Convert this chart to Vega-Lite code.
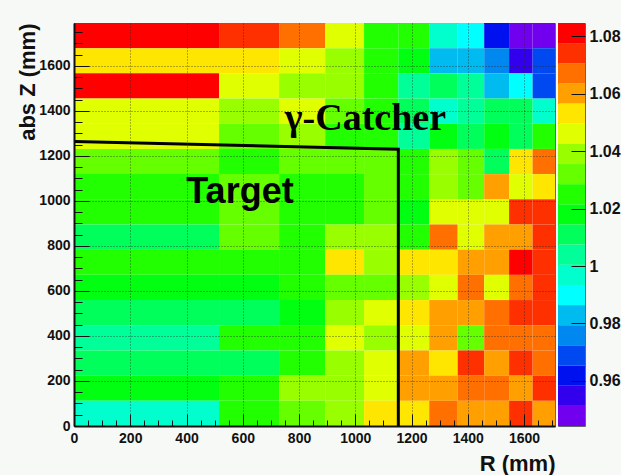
{
  "$schema": "https://vega.github.io/schema/vega-lite/v6.json",
  "background": "#f7f9f7",
  "padding": {"left": 15, "top": 22, "right": 0, "bottom": 0},
  "spacing": 1,
  "config": {
    "view": {"stroke": "#666666", "strokeWidth": 1},
    "axis": {"labelFont": "Liberation Sans", "titleFont": "Liberation Sans", "labelFontWeight": "bold", "titleFontWeight": "bold", "labelColor": "#111111", "titleColor": "#111111", "tickColor": "#111111", "domainColor": "#111111"}
  },
  "hconcat": [
    {
      "width": 481,
      "height": 403,
      "resolve": {"axis": {"x": "independent", "y": "independent"}},
      "layer": [
        {
          "data": {"values": [
            {"r0":0,"r1":515.6,"z0":1678.1,"z1":1790,"v":1.0815},{"r0":515.6,"r1":729.1,"z0":1678.1,"z1":1790,"v":1.0742},{"r0":729.1,"r1":893.0,"z0":1678.1,"z1":1790,"v":1.0668},{"r0":893.0,"r1":1031.2,"z0":1678.1,"z1":1790,"v":1.0462},{"r0":1031.2,"r1":1152.9,"z0":1678.1,"z1":1790,"v":1.0247},{"r0":1152.9,"r1":1262.9,"z0":1678.1,"z1":1790,"v":1.0255},{"r0":1262.9,"r1":1364.1,"z0":1678.1,"z1":1790,"v":0.9972},{"r0":1364.1,"r1":1458.3,"z0":1678.1,"z1":1790,"v":0.9901},{"r0":1458.3,"r1":1546.8,"z0":1678.1,"z1":1790,"v":0.9618},{"r0":1546.8,"r1":1630.4,"z0":1678.1,"z1":1790,"v":0.9462},{"r0":1630.4,"r1":1710,"z0":1678.1,"z1":1790,"v":0.9480},
            {"r0":0,"r1":515.6,"z0":1566.3,"z1":1678.1,"v":1.0532},{"r0":515.6,"r1":729.1,"z0":1566.3,"z1":1678.1,"v":1.0528},{"r0":729.1,"r1":893.0,"z0":1566.3,"z1":1678.1,"v":1.0458},{"r0":893.0,"r1":1031.2,"z0":1566.3,"z1":1678.1,"v":1.0391},{"r0":1031.2,"r1":1152.9,"z0":1566.3,"z1":1678.1,"v":1.0252},{"r0":1152.9,"r1":1262.9,"z0":1566.3,"z1":1678.1,"v":1.0178},{"r0":1262.9,"r1":1364.1,"z0":1566.3,"z1":1678.1,"v":0.9831},{"r0":1364.1,"r1":1458.3,"z0":1566.3,"z1":1678.1,"v":0.9826},{"r0":1458.3,"r1":1546.8,"z0":1566.3,"z1":1678.1,"v":0.9757},{"r0":1546.8,"r1":1630.4,"z0":1566.3,"z1":1678.1,"v":0.9551},{"r0":1630.4,"r1":1710,"z0":1566.3,"z1":1678.1,"v":0.9688},
            {"r0":0,"r1":515.6,"z0":1454.4,"z1":1566.3,"v":1.0808},{"r0":515.6,"r1":729.1,"z0":1454.4,"z1":1566.3,"v":1.0463},{"r0":729.1,"r1":893.0,"z0":1454.4,"z1":1566.3,"v":1.0387},{"r0":893.0,"r1":1031.2,"z0":1454.4,"z1":1566.3,"v":1.0394},{"r0":1031.2,"r1":1152.9,"z0":1454.4,"z1":1566.3,"v":1.0249},{"r0":1152.9,"r1":1262.9,"z0":1454.4,"z1":1566.3,"v":1.0041},{"r0":1262.9,"r1":1364.1,"z0":1454.4,"z1":1566.3,"v":1.0108},{"r0":1364.1,"r1":1458.3,"z0":1454.4,"z1":1566.3,"v":1.0036},{"r0":1458.3,"r1":1546.8,"z0":1454.4,"z1":1566.3,"v":0.9834},{"r0":1546.8,"r1":1630.4,"z0":1454.4,"z1":1566.3,"v":0.9902},{"r0":1630.4,"r1":1710,"z0":1454.4,"z1":1566.3,"v":0.9691},
            {"r0":0,"r1":515.6,"z0":1342.5,"z1":1454.4,"v":1.0459},{"r0":515.6,"r1":729.1,"z0":1342.5,"z1":1454.4,"v":1.0392},{"r0":729.1,"r1":893.0,"z0":1342.5,"z1":1454.4,"v":1.0461},{"r0":893.0,"r1":1031.2,"z0":1342.5,"z1":1454.4,"v":1.0318},{"r0":1031.2,"r1":1152.9,"z0":1342.5,"z1":1454.4,"v":1.0251},{"r0":1152.9,"r1":1262.9,"z0":1342.5,"z1":1454.4,"v":1.0112},{"r0":1262.9,"r1":1364.1,"z0":1342.5,"z1":1454.4,"v":0.9968},{"r0":1364.1,"r1":1458.3,"z0":1342.5,"z1":1454.4,"v":1.0043},{"r0":1458.3,"r1":1546.8,"z0":1342.5,"z1":1454.4,"v":1.0107},{"r0":1546.8,"r1":1630.4,"z0":1342.5,"z1":1454.4,"v":1.0111},{"r0":1630.4,"r1":1710,"z0":1342.5,"z1":1454.4,"v":0.9971},
            {"r0":0,"r1":515.6,"z0":1230.6,"z1":1342.5,"v":1.0457},{"r0":515.6,"r1":729.1,"z0":1230.6,"z1":1342.5,"v":1.0322},{"r0":729.1,"r1":893.0,"z0":1230.6,"z1":1342.5,"v":1.0389},{"r0":893.0,"r1":1031.2,"z0":1230.6,"z1":1342.5,"v":1.0248},{"r0":1031.2,"r1":1152.9,"z0":1230.6,"z1":1342.5,"v":1.0253},{"r0":1152.9,"r1":1262.9,"z0":1230.6,"z1":1342.5,"v":1.0038},{"r0":1262.9,"r1":1364.1,"z0":1230.6,"z1":1342.5,"v":1.0181},{"r0":1364.1,"r1":1458.3,"z0":1230.6,"z1":1342.5,"v":1.0109},{"r0":1458.3,"r1":1546.8,"z0":1230.6,"z1":1342.5,"v":1.0177},{"r0":1546.8,"r1":1630.4,"z0":1230.6,"z1":1342.5,"v":1.0113},{"r0":1630.4,"r1":1710,"z0":1230.6,"z1":1342.5,"v":1.0246},
            {"r0":0,"r1":515.6,"z0":1118.8,"z1":1230.6,"v":1.0321},{"r0":515.6,"r1":729.1,"z0":1118.8,"z1":1230.6,"v":1.0252},{"r0":729.1,"r1":893.0,"z0":1118.8,"z1":1230.6,"v":1.0319},{"r0":893.0,"r1":1031.2,"z0":1118.8,"z1":1230.6,"v":1.0323},{"r0":1031.2,"r1":1152.9,"z0":1118.8,"z1":1230.6,"v":1.0317},{"r0":1152.9,"r1":1262.9,"z0":1118.8,"z1":1230.6,"v":1.0248},{"r0":1262.9,"r1":1364.1,"z0":1118.8,"z1":1230.6,"v":1.0393},{"r0":1364.1,"r1":1458.3,"z0":1118.8,"z1":1230.6,"v":1.0322},{"r0":1458.3,"r1":1546.8,"z0":1118.8,"z1":1230.6,"v":1.0108},{"r0":1546.8,"r1":1630.4,"z0":1118.8,"z1":1230.6,"v":1.0529},{"r0":1630.4,"r1":1710,"z0":1118.8,"z1":1230.6,"v":1.0672},
            {"r0":0,"r1":515.6,"z0":1006.9,"z1":1118.8,"v":1.0251},{"r0":515.6,"r1":729.1,"z0":1006.9,"z1":1118.8,"v":1.0318},{"r0":729.1,"r1":893.0,"z0":1006.9,"z1":1118.8,"v":1.0249},{"r0":893.0,"r1":1031.2,"z0":1006.9,"z1":1118.8,"v":1.0254},{"r0":1031.2,"r1":1152.9,"z0":1006.9,"z1":1118.8,"v":1.0321},{"r0":1152.9,"r1":1262.9,"z0":1006.9,"z1":1118.8,"v":1.0247},{"r0":1262.9,"r1":1364.1,"z0":1006.9,"z1":1118.8,"v":1.0388},{"r0":1364.1,"r1":1458.3,"z0":1006.9,"z1":1118.8,"v":1.0324},{"r0":1458.3,"r1":1546.8,"z0":1006.9,"z1":1118.8,"v":1.0602},{"r0":1546.8,"r1":1630.4,"z0":1006.9,"z1":1118.8,"v":1.0462},{"r0":1630.4,"r1":1710,"z0":1006.9,"z1":1118.8,"v":1.0533},
            {"r0":0,"r1":515.6,"z0":895.0,"z1":1006.9,"v":1.0249},{"r0":515.6,"r1":729.1,"z0":895.0,"z1":1006.9,"v":1.0319},{"r0":729.1,"r1":893.0,"z0":895.0,"z1":1006.9,"v":1.0252},{"r0":893.0,"r1":1031.2,"z0":895.0,"z1":1006.9,"v":1.0248},{"r0":1031.2,"r1":1152.9,"z0":895.0,"z1":1006.9,"v":1.0323},{"r0":1152.9,"r1":1262.9,"z0":895.0,"z1":1006.9,"v":1.0182},{"r0":1262.9,"r1":1364.1,"z0":895.0,"z1":1006.9,"v":1.0459},{"r0":1364.1,"r1":1458.3,"z0":895.0,"z1":1006.9,"v":1.0463},{"r0":1458.3,"r1":1546.8,"z0":895.0,"z1":1006.9,"v":1.0456},{"r0":1546.8,"r1":1630.4,"z0":895.0,"z1":1006.9,"v":1.0743},{"r0":1630.4,"r1":1710,"z0":895.0,"z1":1006.9,"v":1.0738},
            {"r0":0,"r1":515.6,"z0":783.1,"z1":895.0,"v":1.0112},{"r0":515.6,"r1":729.1,"z0":783.1,"z1":895.0,"v":1.0321},{"r0":729.1,"r1":893.0,"z0":783.1,"z1":895.0,"v":1.0251},{"r0":893.0,"r1":1031.2,"z0":783.1,"z1":895.0,"v":1.0389},{"r0":1031.2,"r1":1152.9,"z0":783.1,"z1":895.0,"v":1.0392},{"r0":1152.9,"r1":1262.9,"z0":783.1,"z1":895.0,"v":1.0253},{"r0":1262.9,"r1":1364.1,"z0":783.1,"z1":895.0,"v":1.0669},{"r0":1364.1,"r1":1458.3,"z0":783.1,"z1":895.0,"v":1.0461},{"r0":1458.3,"r1":1546.8,"z0":783.1,"z1":895.0,"v":1.0598},{"r0":1546.8,"r1":1630.4,"z0":783.1,"z1":895.0,"v":1.0603},{"r0":1630.4,"r1":1710,"z0":783.1,"z1":895.0,"v":1.0741},
            {"r0":0,"r1":515.6,"z0":671.3,"z1":783.1,"v":1.0253},{"r0":515.6,"r1":729.1,"z0":671.3,"z1":783.1,"v":1.0249},{"r0":729.1,"r1":893.0,"z0":671.3,"z1":783.1,"v":1.0247},{"r0":893.0,"r1":1031.2,"z0":671.3,"z1":783.1,"v":1.0531},{"r0":1031.2,"r1":1152.9,"z0":671.3,"z1":783.1,"v":1.0388},{"r0":1152.9,"r1":1262.9,"z0":671.3,"z1":783.1,"v":1.0527},{"r0":1262.9,"r1":1364.1,"z0":671.3,"z1":783.1,"v":1.0534},{"r0":1364.1,"r1":1458.3,"z0":671.3,"z1":783.1,"v":1.0601},{"r0":1458.3,"r1":1546.8,"z0":671.3,"z1":783.1,"v":1.0597},{"r0":1546.8,"r1":1630.4,"z0":671.3,"z1":783.1,"v":1.0812},{"r0":1630.4,"r1":1710,"z0":671.3,"z1":783.1,"v":1.0744},
            {"r0":0,"r1":515.6,"z0":559.4,"z1":671.3,"v":1.0179},{"r0":515.6,"r1":729.1,"z0":559.4,"z1":671.3,"v":1.0183},{"r0":729.1,"r1":893.0,"z0":559.4,"z1":671.3,"v":1.0251},{"r0":893.0,"r1":1031.2,"z0":559.4,"z1":671.3,"v":1.0322},{"r0":1031.2,"r1":1152.9,"z0":559.4,"z1":671.3,"v":1.0318},{"r0":1152.9,"r1":1262.9,"z0":559.4,"z1":671.3,"v":1.0391},{"r0":1262.9,"r1":1364.1,"z0":559.4,"z1":671.3,"v":1.0458},{"r0":1364.1,"r1":1458.3,"z0":559.4,"z1":671.3,"v":1.0673},{"r0":1458.3,"r1":1546.8,"z0":559.4,"z1":671.3,"v":1.0462},{"r0":1546.8,"r1":1630.4,"z0":559.4,"z1":671.3,"v":1.0668},{"r0":1630.4,"r1":1710,"z0":559.4,"z1":671.3,"v":1.0739},
            {"r0":0,"r1":515.6,"z0":447.5,"z1":559.4,"v":1.0108},{"r0":515.6,"r1":729.1,"z0":447.5,"z1":559.4,"v":1.0111},{"r0":729.1,"r1":893.0,"z0":447.5,"z1":559.4,"v":1.0178},{"r0":893.0,"r1":1031.2,"z0":447.5,"z1":559.4,"v":1.0392},{"r0":1031.2,"r1":1152.9,"z0":447.5,"z1":559.4,"v":1.0461},{"r0":1152.9,"r1":1262.9,"z0":447.5,"z1":559.4,"v":1.0529},{"r0":1262.9,"r1":1364.1,"z0":447.5,"z1":559.4,"v":1.0603},{"r0":1364.1,"r1":1458.3,"z0":447.5,"z1":559.4,"v":1.0598},{"r0":1458.3,"r1":1546.8,"z0":447.5,"z1":559.4,"v":1.0671},{"r0":1546.8,"r1":1630.4,"z0":447.5,"z1":559.4,"v":1.0742},{"r0":1630.4,"r1":1710,"z0":447.5,"z1":559.4,"v":1.0745},
            {"r0":0,"r1":515.6,"z0":335.6,"z1":447.5,"v":1.0041},{"r0":515.6,"r1":729.1,"z0":335.6,"z1":447.5,"v":1.0248},{"r0":729.1,"r1":893.0,"z0":335.6,"z1":447.5,"v":1.0252},{"r0":893.0,"r1":1031.2,"z0":335.6,"z1":447.5,"v":1.0458},{"r0":1031.2,"r1":1152.9,"z0":335.6,"z1":447.5,"v":1.0389},{"r0":1152.9,"r1":1262.9,"z0":335.6,"z1":447.5,"v":1.0463},{"r0":1262.9,"r1":1364.1,"z0":335.6,"z1":447.5,"v":1.0599},{"r0":1364.1,"r1":1458.3,"z0":335.6,"z1":447.5,"v":1.0319},{"r0":1458.3,"r1":1546.8,"z0":335.6,"z1":447.5,"v":1.0668},{"r0":1546.8,"r1":1630.4,"z0":335.6,"z1":447.5,"v":1.0672},{"r0":1630.4,"r1":1710,"z0":335.6,"z1":447.5,"v":1.0669},
            {"r0":0,"r1":515.6,"z0":223.8,"z1":335.6,"v":1.0109},{"r0":515.6,"r1":729.1,"z0":223.8,"z1":335.6,"v":1.0113},{"r0":729.1,"r1":893.0,"z0":223.8,"z1":335.6,"v":1.0249},{"r0":893.0,"r1":1031.2,"z0":223.8,"z1":335.6,"v":1.0391},{"r0":1031.2,"r1":1152.9,"z0":223.8,"z1":335.6,"v":1.0457},{"r0":1152.9,"r1":1262.9,"z0":223.8,"z1":335.6,"v":1.0602},{"r0":1262.9,"r1":1364.1,"z0":223.8,"z1":335.6,"v":1.0532},{"r0":1364.1,"r1":1458.3,"z0":223.8,"z1":335.6,"v":1.0746},{"r0":1458.3,"r1":1546.8,"z0":223.8,"z1":335.6,"v":1.0598},{"r0":1546.8,"r1":1630.4,"z0":223.8,"z1":335.6,"v":1.0741},{"r0":1630.4,"r1":1710,"z0":223.8,"z1":335.6,"v":1.0671},
            {"r0":0,"r1":515.6,"z0":111.9,"z1":223.8,"v":1.0181},{"r0":515.6,"r1":729.1,"z0":111.9,"z1":223.8,"v":1.0252},{"r0":729.1,"r1":893.0,"z0":111.9,"z1":223.8,"v":1.0388},{"r0":893.0,"r1":1031.2,"z0":111.9,"z1":223.8,"v":1.0393},{"r0":1031.2,"r1":1152.9,"z0":111.9,"z1":223.8,"v":1.0459},{"r0":1152.9,"r1":1262.9,"z0":111.9,"z1":223.8,"v":1.0601},{"r0":1262.9,"r1":1364.1,"z0":111.9,"z1":223.8,"v":1.0597},{"r0":1364.1,"r1":1458.3,"z0":111.9,"z1":223.8,"v":1.0669},{"r0":1458.3,"r1":1546.8,"z0":111.9,"z1":223.8,"v":1.0673},{"r0":1546.8,"r1":1630.4,"z0":111.9,"z1":223.8,"v":1.0602},{"r0":1630.4,"r1":1710,"z0":111.9,"z1":223.8,"v":1.0743},
            {"r0":0,"r1":515.6,"z0":0,"z1":111.9,"v":0.9968},{"r0":515.6,"r1":729.1,"z0":0,"z1":111.9,"v":1.0251},{"r0":729.1,"r1":893.0,"z0":0,"z1":111.9,"v":1.0321},{"r0":893.0,"r1":1031.2,"z0":0,"z1":111.9,"v":1.0389},{"r0":1031.2,"r1":1152.9,"z0":0,"z1":111.9,"v":1.0528},{"r0":1152.9,"r1":1262.9,"z0":0,"z1":111.9,"v":1.0533},{"r0":1262.9,"r1":1364.1,"z0":0,"z1":111.9,"v":1.0671},{"r0":1364.1,"r1":1458.3,"z0":0,"z1":111.9,"v":1.0599},{"r0":1458.3,"r1":1546.8,"z0":0,"z1":111.9,"v":1.0603},{"r0":1546.8,"r1":1630.4,"z0":0,"z1":111.9,"v":1.0739},{"r0":1630.4,"r1":1710,"z0":0,"z1":111.9,"v":1.0597}
          ]},
          "mark": {"type": "rect"},
          "encoding": {
            "x": {"field": "r0", "type": "quantitative", "scale": {"domain": [0, 1710], "nice": false, "zero": false},
              "axis": {"orient": "bottom", "values": [0,200,400,600,800,1000,1200,1400,1600], "format": "d", "labelFontSize": 14, "labelFlush": false, "labelOverlap": false, "tickSize": -12, "tickWidth": 1, "labelPadding": 17, "domainWidth": 2, "grid": true, "gridDash": [1,2], "gridColor": "#222222", "gridOpacity": 0.7, "gridWidth": 1, "zindex": 1, "title": "R (mm)", "titleFontSize": 22, "titleAnchor": "end", "titlePadding": 8, "minExtent": 19, "maxExtent": 19}},
            "x2": {"field": "r1"},
            "y": {"field": "z0", "type": "quantitative", "scale": {"domain": [0, 1790], "nice": false, "zero": false},
              "axis": {"orient": "left", "values": [0,200,400,600,800,1000,1200,1400,1600], "format": "d", "labelFontSize": 14, "labelOverlap": false, "labelFlush": false, "tickSize": -15, "tickWidth": 1, "labelPadding": 19, "domainWidth": 2, "grid": true, "gridDash": [1,2], "gridColor": "#222222", "gridOpacity": 0.7, "gridWidth": 1, "zindex": 1, "title": "abs Z (mm)", "titleFontSize": 22, "titleAnchor": "end", "titlePadding": 0, "minExtent": 35, "maxExtent": 35}},
            "y2": {"field": "z1"},
            "color": {"field": "v", "type": "quantitative", "legend": null,
              "scale": {"type": "quantize", "domain": [0.9443, 1.0846], "nice": false, "zero": false,
                "range": ["#7000ee","#3300ee","#0011f0","#0048f0","#0088f0","#00bbf0","#00ffff","#00ffcc","#00ff99","#00ff5a","#00ff10","#22ff00","#66ff00","#99ff00","#e0ff00","#ffe600","#ffa000","#ff7000","#ff3000","#ff0000"]}}
          }
        },
        {
          "data": {"values": [{"r": 0, "z": 1264, "o": 1}, {"r": 1153, "z": 1229, "o": 2}, {"r": 1153, "z": 0, "o": 3}]},
          "mark": {"type": "line", "color": "#000000", "strokeWidth": 3},
          "encoding": {
            "x": {"field": "r", "type": "quantitative",
              "axis": {"orient": "bottom", "values": [50,100,150,250,300,350,450,500,550,650,700,750,850,900,950,1050,1100,1150,1250,1300,1350,1450,1500,1550,1650,1700], "labels": false, "domain": false, "grid": false, "title": null, "tickSize": -6, "tickWidth": 1, "zindex": 1, "minExtent": 0, "maxExtent": 0}},
            "y": {"field": "z", "type": "quantitative",
              "axis": {"orient": "left", "values": [50,100,150,250,300,350,450,500,550,650,700,750,850,900,950,1050,1100,1150,1250,1300,1350,1450,1500,1550,1650,1700,1750], "labels": false, "domain": false, "grid": false, "title": null, "tickSize": -8, "tickWidth": 1, "zindex": 1, "minExtent": 0, "maxExtent": 0}},
            "order": {"field": "o", "type": "quantitative"}
          }
        },
        {
          "data": {"values": [{"r": 590, "z": 989, "t": "Target"}]},
          "mark": {"type": "text", "font": "Liberation Sans", "fontWeight": "bold", "fontSize": 36, "align": "center", "baseline": "alphabetic", "color": "#000000"},
          "encoding": {
            "x": {"field": "r", "type": "quantitative", "axis": null},
            "y": {"field": "z", "type": "quantitative", "axis": null},
            "text": {"field": "t"}
          }
        },
        {
          "data": {"values": [{"r": 1036, "z": 1313, "t": "γ-Catcher"}]},
          "mark": {"type": "text", "font": "Liberation Serif", "fontWeight": "bold", "fontSize": 38, "align": "center", "baseline": "alphabetic", "color": "#000000"},
          "encoding": {
            "x": {"field": "r", "type": "quantitative", "axis": null},
            "y": {"field": "z", "type": "quantitative", "axis": null},
            "text": {"field": "t"}
          }
        }
      ]
    },
    {
      "width": 27,
      "height": 403,
      "data": {"values": [
        {"lo":0.9443,"hi":0.9513,"mid":0.9478},{"lo":0.9513,"hi":0.9583,"mid":0.9548},{"lo":0.9583,"hi":0.9654,"mid":0.9618},{"lo":0.9654,"hi":0.9724,"mid":0.9689},{"lo":0.9724,"hi":0.9794,"mid":0.9759},
        {"lo":0.9794,"hi":0.9864,"mid":0.9829},{"lo":0.9864,"hi":0.9934,"mid":0.9899},{"lo":0.9934,"hi":1.0004,"mid":0.9969},{"lo":1.0004,"hi":1.0075,"mid":1.0039},{"lo":1.0075,"hi":1.0145,"mid":1.0110},
        {"lo":1.0145,"hi":1.0215,"mid":1.0180},{"lo":1.0215,"hi":1.0285,"mid":1.0250},{"lo":1.0285,"hi":1.0355,"mid":1.0320},{"lo":1.0355,"hi":1.0425,"mid":1.0390},{"lo":1.0425,"hi":1.0496,"mid":1.0460},
        {"lo":1.0496,"hi":1.0566,"mid":1.0531},{"lo":1.0566,"hi":1.0636,"mid":1.0601},{"lo":1.0636,"hi":1.0706,"mid":1.0671},{"lo":1.0706,"hi":1.0776,"mid":1.0741},{"lo":1.0776,"hi":1.0846,"mid":1.0811}
      ]},
      "mark": {"type": "rect"},
      "encoding": {
        "y": {"field": "lo", "type": "quantitative", "scale": {"domain": [0.9443, 1.0846], "nice": false, "zero": false},
          "axis": {"orient": "right", "values": [0.96, 0.98, 1, 1.02, 1.04, 1.06, 1.08], "format": "~g", "labelFontSize": 16, "labelOverlap": false, "labelFlush": false, "tickSize": -14, "tickWidth": 1, "labelPadding": 18, "domain": false, "grid": false, "title": null, "zindex": 1}},
        "y2": {"field": "hi"},
        "color": {"field": "mid", "type": "quantitative", "legend": null,
          "scale": {"type": "quantize", "domain": [0.9443, 1.0846], "nice": false, "zero": false,
            "range": ["#7000ee","#3300ee","#0011f0","#0048f0","#0088f0","#00bbf0","#00ffff","#00ffcc","#00ff99","#00ff5a","#00ff10","#22ff00","#66ff00","#99ff00","#e0ff00","#ffe600","#ffa000","#ff7000","#ff3000","#ff0000"]}}
      }
    }
  ]
}
